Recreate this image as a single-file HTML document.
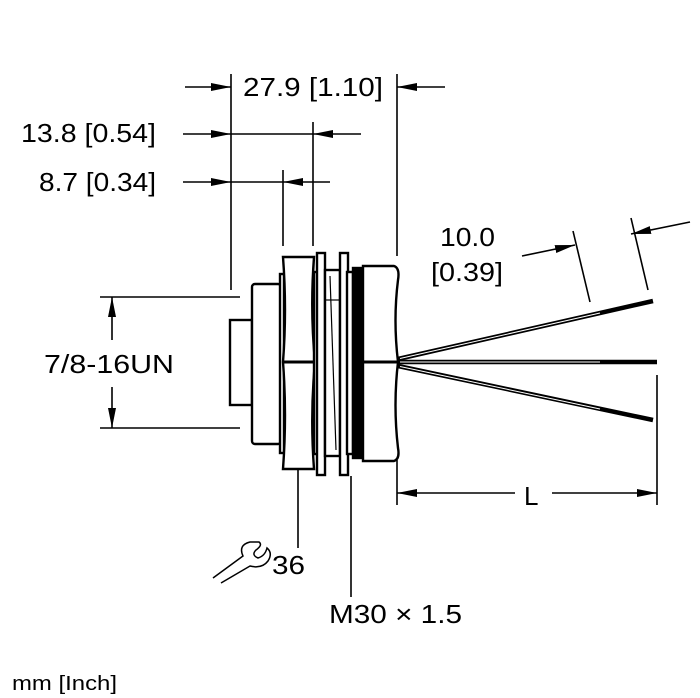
<!DOCTYPE html>
<html><head><meta charset="utf-8"><style>
html,body{margin:0;padding:0;background:#fff;}
svg{display:block;}
text{font-family:"Liberation Sans","DejaVu Sans",sans-serif;fill:#000;}
</style></head><body>
<svg width="700" height="698" viewBox="0 0 700 698" xmlns="http://www.w3.org/2000/svg">
<defs>
<marker id="a" viewBox="0 0 20 8" refX="20" refY="4" markerWidth="20" markerHeight="8" markerUnits="userSpaceOnUse" orient="auto"><path d="M0,0 L20,4 L0,8 Z" fill="#000"/></marker>
</defs>
<g stroke="#000" stroke-width="1.6" fill="none">
<line x1="231" y1="74" x2="231" y2="290"/>
<line x1="283" y1="170" x2="283" y2="246"/>
<line x1="313" y1="122" x2="313" y2="246"/>
<line x1="397" y1="74" x2="397" y2="256"/>
<line x1="185" y1="87" x2="231" y2="87" marker-end="url(#a)"/>
<line x1="445" y1="87" x2="397" y2="87" marker-end="url(#a)"/>
<line x1="183" y1="134" x2="231" y2="134" marker-end="url(#a)"/>
<line x1="231" y1="134" x2="313" y2="134"/>
<line x1="361" y1="134" x2="313" y2="134" marker-end="url(#a)"/>
<line x1="183" y1="182" x2="231" y2="182" marker-end="url(#a)"/>
<line x1="231" y1="182" x2="283" y2="182"/>
<line x1="330" y1="182" x2="283" y2="182" marker-end="url(#a)"/>
<line x1="100" y1="297" x2="240" y2="297"/>
<line x1="100" y1="428" x2="240" y2="428"/>
<line x1="112" y1="340" x2="112" y2="297" marker-end="url(#a)"/>
<line x1="112" y1="387" x2="112" y2="428" marker-end="url(#a)"/>
<line x1="298" y1="469" x2="298" y2="548"/>
<line x1="351" y1="476" x2="351" y2="597"/>
<line x1="397" y1="460" x2="397" y2="505"/>
<line x1="657" y1="375" x2="657" y2="505"/>
<line x1="515" y1="493" x2="397" y2="493" marker-end="url(#a)"/>
<line x1="552" y1="493" x2="657" y2="493" marker-end="url(#a)"/>
<line x1="590" y1="302" x2="573" y2="231"/>
<line x1="648" y1="290" x2="631" y2="218"/>
<line x1="522" y1="256" x2="575" y2="245" marker-end="url(#a)"/>
<line x1="690" y1="222" x2="631" y2="234" marker-end="url(#a)"/>
<line x1="232" y1="363" x2="362" y2="363"/>
</g>
<g stroke="#000" stroke-width="2.4" fill="#fff">
<rect x="230" y="320" width="22" height="85"/>
<rect x="252" y="284" width="29" height="160" rx="3"/>
<rect x="280" y="274" width="4" height="179"/>
<path d="M283,257 L314,257 Q310,310 315,362 Q310,415 314,469 L283,469 Q287,415 283,362 Q287,310 283,257 Z"/>
<line x1="283" y1="362" x2="315" y2="362" stroke-width="3"/>
<rect x="314" y="272" width="4" height="182"/>
<rect x="317" y="253" width="8" height="222"/>
<rect x="325" y="270" width="15" height="186"/>
<rect x="340" y="253" width="8" height="222"/>
<rect x="347" y="272" width="6" height="182"/>
<rect x="353" y="268" width="10" height="190" fill="#000"/>
<path d="M363,266 L394,266 Q400,268 398,280 Q393,320 398,362 Q393,405 398,448 Q400,459 394,461 L363,461 Z"/>
<line x1="363" y1="362" x2="398" y2="362" stroke-width="3"/>
</g>
<g stroke="#000" stroke-width="1.2" fill="none">
<line x1="330" y1="276" x2="336" y2="450"/>
<line x1="326" y1="300" x2="339" y2="300"/>
</g>
<g stroke="#000" stroke-width="4.5" fill="none">
<line x1="398" y1="359" x2="653" y2="301"/>
<line x1="398" y1="362" x2="657" y2="362"/>
<line x1="398" y1="366" x2="653" y2="420"/>
</g>
<g stroke="#fff" stroke-width="1" fill="none">
<line x1="400" y1="358.5" x2="600" y2="313"/>
<line x1="400" y1="362" x2="600" y2="362"/>
<line x1="400" y1="366.5" x2="600" y2="409"/>
</g>
<path d="M213,578 L243,556 Q238,545 250,542 L259,542 Q263,545 256,550 Q251,555 258,558 Q265,556 267,548 Q273,553 268,561 Q262,569 250,566 L221,583" fill="none" stroke="#000" stroke-width="1.5"/>
<g font-size="26">
<text x="243" y="96" textLength="140" lengthAdjust="spacingAndGlyphs">27.9 [1.10]</text>
<text x="21" y="142" textLength="135" lengthAdjust="spacingAndGlyphs">13.8 [0.54]</text>
<text x="39" y="191" textLength="117" lengthAdjust="spacingAndGlyphs">8.7 [0.34]</text>
<text x="44" y="373" textLength="130" lengthAdjust="spacingAndGlyphs">7/8-16UN</text>
<text x="440" y="246" textLength="55" lengthAdjust="spacingAndGlyphs">10.0</text>
<text x="431" y="281" textLength="72" lengthAdjust="spacingAndGlyphs">[0.39]</text>
<text x="524" y="505">L</text>
<text x="272" y="574" textLength="33" lengthAdjust="spacingAndGlyphs">36</text>
<text x="329" y="623" textLength="133" lengthAdjust="spacingAndGlyphs">M30 × 1.5</text>
</g>
<text x="12" y="690" font-size="20" textLength="105" lengthAdjust="spacingAndGlyphs">mm [Inch]</text>
</svg>
</body></html>
